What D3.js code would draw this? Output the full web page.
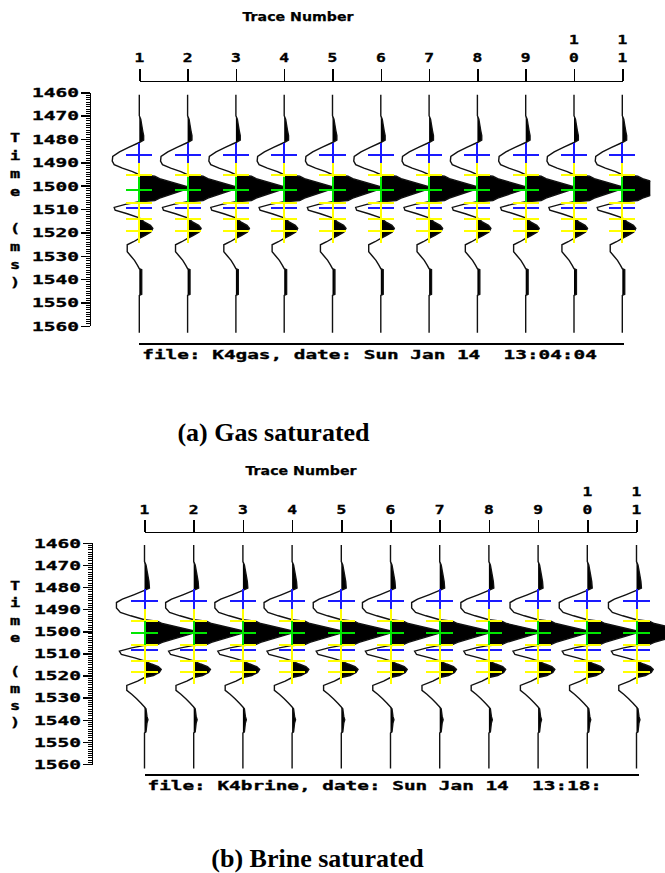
<!DOCTYPE html>
<html>
<head>
<meta charset="utf-8">
<script src="https://cdn.jsdelivr.net/npm/d3@7"></script>
<style>
  html, body { margin: 0; padding: 0; background: #fff; }
  svg { display: block; }
</style>
</head>
<body>
<svg id="chart" width="665" height="873"></svg>
<script>
// ---- data ---------------------------------------------------------------
// Trace numbers along the top axis
const traceNumbers = [1, 2, 3, 4, 5, 6, 7, 8, 9, 10, 11];
const traceLabels = ["1", "2", "3", "4", "5", "6", "7", "8", "9", "10", "11"];

// Two-way time axis (ms)
const timeTicks = [1460, 1470, 1480, 1490, 1500, 1510, 1520, 1530, 1540, 1550, 1560];
const timeTickLabels = ["1460", "1470", "1480", "1490", "1500", "1510", "1520", "1530", "1540", "1550", "1560"];
const timeAxisTitle = "Time (ms)";
const traceAxisTitle = "Trace Number";

// Gas-saturated synthetic trace: sample times (ms) and amplitude (1 = one trace spacing)
const gasTime = [1461, 1470, 1471.5, 1474, 1476.5, 1478.5, 1480.5, 1481.5,
  1483.5, 1485.5, 1487.5, 1489.5, 1491, 1492.5, 1494, 1495.3,
  1495.9, 1497, 1500.5, 1501.3, 1505.3, 1506.4, 1506.9,
  1508, 1509.3, 1510.5, 1512, 1513.8,
  1515.5, 1517, 1518.3, 1519.8, 1521.3, 1522.6,
  1524, 1525.3, 1528.3, 1530, 1532, 1534, 1535.5,
  1536, 1546.5, 1547, 1563];
const gasAmp = [0, 0, 0.03, 0.05, 0.07, 0.09, 0.09, 0,
  -0.21, -0.41, -0.55, -0.56, -0.52, -0.35, -0.14, 0,
  0.32, 0.42, 1.0, 1.0, 0.42, 0.32, 0,
  -0.29, -0.52, -0.50, -0.25, 0,
  0.10, 0.23, 0.28, 0.24, 0.12, 0,
  -0.12, -0.25, -0.25, -0.18, -0.10, -0.04, 0,
  0.05, 0.05, 0, 0];

// Brine-saturated synthetic trace
const brineTime = [1461, 1468.5, 1470, 1472.5, 1475, 1477.5, 1480.5, 1481.5,
  1483.5, 1485.5, 1487, 1489.5, 1491.5, 1493, 1494.8,
  1495.4, 1496.5, 1499.8, 1500.8, 1505, 1506, 1506.4,
  1507.5, 1509, 1510.5, 1512, 1513.4,
  1514.8, 1516, 1517.2, 1518.6, 1520, 1520.9,
  1522.5, 1524.5, 1526.7, 1528.5, 1530.5, 1532.5, 1534.2,
  1535, 1538.5, 1540, 1541.5, 1545.5, 1546, 1562];
const brineAmp = [0, 0, 0.03, 0.05, 0.07, 0.09, 0.10, 0,
  -0.22, -0.45, -0.57, -0.57, -0.49, -0.28, 0,
  0.26, 0.36, 1.0, 1.0, 0.36, 0.26, 0,
  -0.26, -0.51, -0.47, -0.20, 0,
  0.14, 0.28, 0.34, 0.30, 0.18, 0,
  -0.14, -0.36, -0.36, -0.26, -0.16, -0.07, 0,
  0.03, 0.05, 0.07, 0.05, 0.03, 0, 0];

// Horizon picks (ms), identical on every trace
const gasBluePicks = [1487, 1509.5];
const gasYellowPicks = [1495.5, 1507.2, 1514.3, 1519.2];
const gasGreenPicks = [1501.7];
const brineBluePicks = [1486.3, 1508.4];
const brineYellowPicks = [1495.3, 1506.4, 1513.3, 1518.4];
const brineGreenPicks = [1500.6];

const fileLabels = ["file: K4gas, date: Sun Jan 14  13:04:04",
                    "file: K4brine, date: Sun Jan 14  13:18:"];
const captions = ["(a) Gas saturated", "(b) Brine saturated"];

// ---- drawing ------------------------------------------------------------
const svg = d3.select("#chart");
const MONO = "'DejaVu Sans Mono', monospace";
const SANS = "'DejaVu Sans', sans-serif";
const SERIF = "'Liberation Serif', 'Times New Roman', serif";

function stretchedText(g, x, y, str, o) {
  return g.append("text")
    .attr("transform", `translate(${x},${y}) scale(${o.sx || 1},1)`)
    .attr("text-anchor", o.anchor || "middle")
    .attr("dominant-baseline", "central")
    .attr("font-family", o.family || MONO)
    .attr("font-weight", o.weight || "bold")
    .attr("font-size", o.size || 13)
    .attr("fill", "#000")
    .attr("stroke", "#000")
    .attr("stroke-width", o.stroke == null ? 0.35 : o.stroke)
    .attr("xml:space", "preserve")
    .style("white-space", "pre")
    .text(str);
}

function drawPanel(cfg, idx) {
  const g = svg.append("g");
  const x = d3.scaleLinear().domain([1, 11]).range(cfg.xRange);
  const spacing = (cfg.xRange[1] - cfg.xRange[0]) / 10;
  const amp = d3.scaleLinear().domain([0, 1]).range([0, spacing]);
  const y = d3.scaleLinear().domain([1460, 1560]).range(cfg.yRange);

  // title above the trace axis
  g.append("text")
    .attr("x", cfg.titleX).attr("y", cfg.titleY)
    .attr("text-anchor", "middle").attr("dominant-baseline", "central")
    .attr("font-family", SANS).attr("font-weight", "bold").attr("font-size", 13)
    .attr("stroke", "#000").attr("stroke-width", 0.25)
    .attr("textLength", 111).attr("lengthAdjust", "spacingAndGlyphs")
    .text(traceAxisTitle);

  // trace-number bracket axis
  const topAxis = d3.axisTop(x).tickValues(traceNumbers).tickSize(12).tickSizeOuter(0).tickFormat("");
  const ta = g.append("g").attr("transform", `translate(0,${cfg.bracketY})`).call(topAxis);
  ta.selectAll("path, line").attr("stroke", "#000").attr("stroke-width", 1.5).attr("shape-rendering", "crispEdges");

  // trace-number labels, multi-digit numbers stacked vertically
  traceNumbers.forEach((n, i) => {
    const chars = traceLabels[i].split("");
    chars.forEach((c, k) => {
      const row = chars.length - 1 - k;
      stretchedText(g, x(n), cfg.digitY - row * 18, c, { sx: 1.25, size: 13 });
    });
  });

  // time axis: major ticks with labels, minor ticks every ms
  const major = d3.axisLeft(y).tickValues(timeTicks).tickSize(9).tickSizeOuter(0)
    .tickFormat((d, i) => timeTickLabels[i]);
  const ax = g.append("g").attr("transform", `translate(${cfg.axisX},0)`).call(major);
  ax.selectAll("path, line").attr("stroke", "#000").attr("stroke-width", 1.5).attr("shape-rendering", "crispEdges");
  ax.selectAll("text")
    .attr("x", null).attr("dy", null)
    .attr("transform", `translate(-11,0) scale(1.5,1)`)
    .attr("text-anchor", "end").attr("dominant-baseline", "central")
    .attr("font-family", MONO).attr("font-weight", "bold").attr("font-size", 13)
    .attr("fill", "#000").attr("stroke", "#000").attr("stroke-width", 0.35);

  const minorVals = d3.range(1460, 1561, 1).filter(v => v % 10 !== 0);
  const minor = d3.axisLeft(y).tickValues(minorVals).tickSize(4).tickSizeOuter(0).tickFormat("");
  const mx = g.append("g").attr("transform", `translate(${cfg.axisX},0)`).call(minor);
  mx.select(".domain").remove();
  mx.selectAll("line").attr("stroke", "#000").attr("stroke-width", 1).attr("shape-rendering", "crispEdges");

  // vertical axis title, one character per row
  const step = 0.775 * (y(1470) - y(1460));
  timeAxisTitle.split("").forEach((c, i) => {
    if (c === " ") return;
    stretchedText(g, 15, y(1479.5) + i * step, c, { sx: 1.3, size: 13 });
  });

  // wiggle traces with positive variable-area fill
  const clipId = `clip${idx}`;
  svg.append("defs").append("clipPath").attr("id", clipId)
    .append("rect")
    .attr("x", cfg.xRange[0] - 60).attr("y", 0)
    .attr("width", x(11) + 0.58 * spacing - (cfg.xRange[0] - 60))
    .attr("height", 873);

  const pts = cfg.time.map((t, i) => ({ t, a: cfg.amp[i] }));
  const traces = g.append("g").attr("clip-path", `url(#${clipId})`);

  traceNumbers.forEach(n => {
    const x0 = x(n);
    const area = d3.area()
      .y(d => y(d.t))
      .x0(x0)
      .x1(d => x0 + amp(Math.max(0, d.a)));
    traces.append("path").attr("d", area(pts)).attr("fill", "#000");
  });
  traceNumbers.forEach(n => {
    const x0 = x(n);
    const line = d3.line().x(d => x0 + amp(d.a)).y(d => y(d.t));
    traces.append("path").attr("d", line(pts))
      .attr("fill", "none").attr("stroke", "#111").attr("stroke-width", 1.4);
  });

  // horizon pick crosses
  const halfW = amp(0.27);
  const halfT = 5.4;
  function crosses(times, color) {
    traceNumbers.forEach(n => {
      const x0 = x(n);
      times.forEach(t => {
        g.append("line").attr("x1", x0 - halfW).attr("x2", x0 + halfW)
          .attr("y1", y(t)).attr("y2", y(t))
          .attr("stroke", color).attr("stroke-width", 2).attr("shape-rendering", "crispEdges");
        g.append("line").attr("x1", x0).attr("x2", x0)
          .attr("y1", y(t - halfT)).attr("y2", y(t + halfT))
          .attr("stroke", color).attr("stroke-width", 2).attr("shape-rendering", "crispEdges");
      });
    });
  }
  crosses(cfg.blue, "#1a1aff");
  crosses(cfg.yellow, "#ffff00");
  crosses(cfg.green, "#00e600");

  // file/date footer
  g.append("line")
    .attr("x1", x(1)).attr("x2", x(11) + 2)
    .attr("y1", cfg.footLineY).attr("y2", cfg.footLineY)
    .attr("stroke", "#000").attr("stroke-width", 1.5).attr("shape-rendering", "crispEdges");
  stretchedText(g, x(1) + 3, cfg.footTextY, fileLabels[idx], { sx: 1.49, size: 13, anchor: "start" });

  // caption
  g.append("text")
    .attr("x", cfg.captionX).attr("y", cfg.captionY)
    .attr("text-anchor", "middle")
    .attr("font-family", SERIF).attr("font-weight", "bold").attr("font-size", 26)
    .attr("fill", "#000")
    .text(captions[idx]);
}

drawPanel({
  time: gasTime, amp: gasAmp,
  blue: gasBluePicks, yellow: gasYellowPicks, green: gasGreenPicks,
  xRange: [139.3, 622.3], yRange: [92.3, 325.8],
  axisX: 90, titleX: 298, titleY: 16, digitY: 57, bracketY: 81,
  footLineY: 344, footTextY: 355, captionX: 273.5, captionY: 441
}, 0);

drawPanel({
  time: brineTime, amp: brineAmp,
  blue: brineBluePicks, yellow: brineYellowPicks, green: brineGreenPicks,
  xRange: [144.5, 636.5], yRange: [542.8, 764],
  axisX: 92, titleX: 301, titleY: 470, digitY: 509, bracketY: 532,
  footLineY: 775, footTextY: 786, captionX: 317.5, captionY: 867
}, 1);
</script>
</body>
</html>
